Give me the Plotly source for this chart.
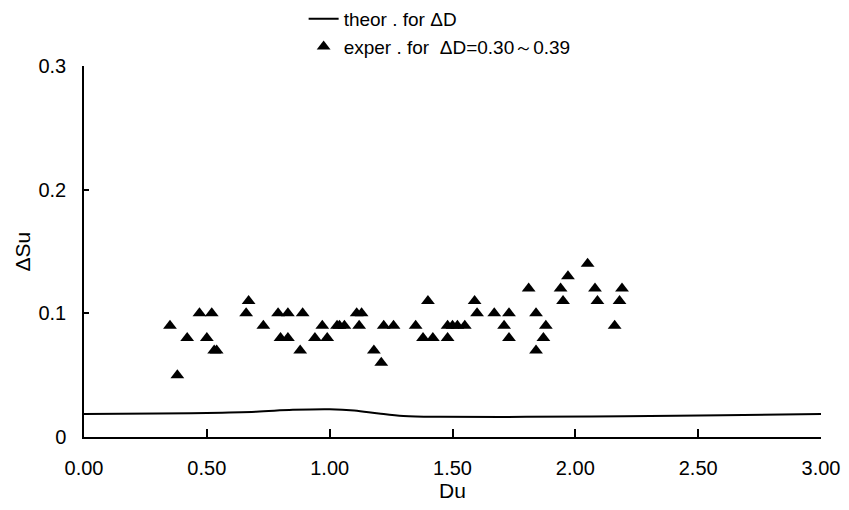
import plotly.graph_objects as go

# Theoretical curve
theor_du = [0.0, 0.3, 0.5, 0.7, 0.85, 1.0, 1.1, 1.2, 1.3, 1.45, 1.8, 2.2, 2.6, 3.0]
theor_dsu = [0.0185, 0.019, 0.0195, 0.0205, 0.022, 0.0225, 0.0215, 0.019, 0.017,
             0.0163, 0.0163, 0.0168, 0.0175, 0.0185]

# Experimental points
exper_du = [0.35, 0.38, 0.42, 0.47, 0.50, 0.52, 0.53, 0.54, 0.66, 0.67, 0.73, 0.79, 0.80,
            0.83, 0.83, 0.88, 0.89, 0.94, 0.97, 0.99, 1.03, 1.04, 1.06, 1.11, 1.12, 1.13,
            1.18, 1.21, 1.22, 1.26, 1.35, 1.38, 1.40, 1.42, 1.48, 1.48, 1.50, 1.52, 1.55,
            1.59, 1.60, 1.67, 1.71, 1.73, 1.73, 1.81, 1.84, 1.84, 1.87, 1.88, 1.94, 1.95,
            1.97, 2.05, 2.08, 2.09, 2.16, 2.18, 2.19]
exper_dsu = [0.09, 0.05, 0.08, 0.10, 0.08, 0.10, 0.07, 0.07, 0.10, 0.11, 0.09, 0.10, 0.08,
             0.10, 0.08, 0.07, 0.10, 0.08, 0.09, 0.08, 0.09, 0.09, 0.09, 0.10, 0.09, 0.10,
             0.07, 0.06, 0.09, 0.09, 0.09, 0.08, 0.11, 0.08, 0.09, 0.08, 0.09, 0.09, 0.09,
             0.11, 0.10, 0.10, 0.09, 0.10, 0.08, 0.12, 0.10, 0.07, 0.08, 0.09, 0.12, 0.11,
             0.13, 0.14, 0.12, 0.11, 0.09, 0.11, 0.12]

x_tickvals = [0.0, 0.5, 1.0, 1.5, 2.0, 2.5, 3.0]
x_ticktext = ["0.00", "0.50", "1.00", "1.50", "2.00", "2.50", "3.00"]
y_tickvals = [0.0, 0.1, 0.2, 0.3]
y_ticktext = ["0", "0.1", "0.2", "0.3"]

FONT = "Liberation Sans, Arial, sans-serif"

fig = go.Figure()
fig.add_trace(go.Scatter(
    x=theor_du, y=theor_dsu, mode="lines", name="theor . for \u0394D",
    line=dict(color="black", width=2, shape="spline"),
))
fig.add_trace(go.Scatter(
    x=exper_du, y=exper_dsu, mode="markers",
    name="exper . for  \u0394D=0.30\uff5e0.39",
    marker=dict(symbol="triangle-up", size=12, color="black"),
))

fig.update_layout(
    width=849, height=510,
    margin=dict(l=84, r=28, t=62, b=73),
    paper_bgcolor="white", plot_bgcolor="white",
    font=dict(family=FONT, size=18, color="black"),
    showlegend=True,
    legend=dict(
        x=0.298, xref="paper", y=1.006, yref="container",
        xanchor="left", yanchor="top",
        bgcolor="rgba(0,0,0,0)", font=dict(size=19, family=FONT),
        itemwidth=30, tracegroupgap=0,
    ),
    xaxis=dict(
        range=[0, 3.0], tickvals=x_tickvals, ticktext=x_ticktext,
        showline=True, linecolor="black", linewidth=1.5, mirror=False,
        ticks="inside", ticklen=8, tickcolor="black", tickwidth=1.5,
        showgrid=False, zeroline=False, automargin=False,
        ticklabelstandoff=12,
        tickfont=dict(size=20),
        title=dict(text="Du", font=dict(size=21), standoff=4),
    ),
    yaxis=dict(
        range=[0, 0.3], tickvals=y_tickvals, ticktext=y_ticktext,
        showline=True, linecolor="black", linewidth=1.5, mirror=False,
        ticks="inside", ticklen=5, tickcolor="black", tickwidth=1.5,
        showgrid=False, zeroline=False, automargin=False,
        ticklabelstandoff=12,
        tickfont=dict(size=20),
    ),
    annotations=[dict(
        text="\u0394Su", textangle=-90, showarrow=False,
        xref="paper", yref="paper", x=-0.084, y=0.5,
        xanchor="center", yanchor="middle", font=dict(size=21),
    )],
)

fig.write_html(
    "out.html",
    config={"displayModeBar": False},
    post_script="document.body.style.margin='0';document.body.style.padding='0';",
)
